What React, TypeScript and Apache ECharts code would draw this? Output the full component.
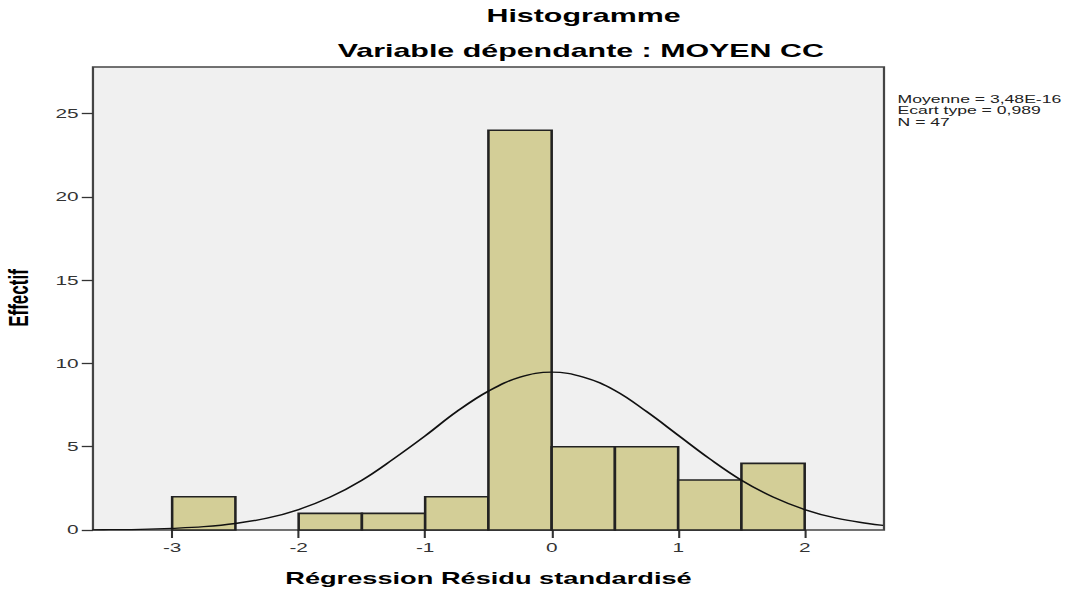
import React, { useEffect, useRef } from "react";
import * as echarts from "echarts";

// Histogram bins (standardised residual) and frequencies
const binStarts = [-3, -2, -1.5, -1, -0.5, 0, 0.5, 1, 1.5];
const binEnds = [-2.5, -1.5, -1, -0.5, 0, 0.5, 1, 1.5, 2];
const counts = [2, 1, 1, 2, 24, 5, 5, 3, 4];

// Normal curve points
const curveX = [-3.63, -3.5, -3.25, -3, -2.75, -2.5, -2.25, -2, -1.75, -1.5, -1.25, -1, -0.75, -0.5, -0.25, 0, 0.25, 0.5, 0.75, 1, 1.25, 1.5, 1.75, 2, 2.25, 2.5, 2.62];
const curveY = [0.01, 0.02, 0.04, 0.1, 0.2, 0.39, 0.71, 1.23, 1.98, 2.99, 4.27, 5.65, 7.11, 8.34, 9.18, 9.48, 9.18, 8.38, 7.11, 5.69, 4.27, 2.99, 1.98, 1.23, 0.71, 0.39, 0.28];

const xTicks = [-3, -2, -1, 0, 1, 2];
const yTicks = [0, 5, 10, 15, 20, 25];

const titleText = "Histogramme";
const subtitleText = "Variable dépendante : MOYEN CC";
const xName = "Régression Résidu standardisé";
const yName = "Effectif";
const statsLines = ["Moyenne = 3,48E-16", "Ecart type = 0,989", "N = 47"];

const SX = 1.6;
const W = 682;
const H = 592;

export default function App() {
  const ref = useRef<HTMLDivElement>(null);
  useEffect(() => {
    if (!ref.current) return;
    const chart = echarts.init(ref.current, null, { renderer: "svg", width: W, height: H });
    const font = "'Liberation Sans', Arial, sans-serif";
    const gridLeft = 58.1;
    const gridRight = 129.5;
    const gridTop = 67;
    const gridBottom = 62;
    const plotCenterX = gridLeft + (W - gridLeft - gridRight) / 2;
    const option: any = {
      animation: false,
      backgroundColor: "#ffffff",
      grid: {
        left: gridLeft,
        right: gridRight,
        top: gridTop,
        bottom: gridBottom,
        show: true,
        backgroundColor: "#f0f0f0",
        borderColor: "#444",
        borderWidth: 1.4,
      },
      xAxis: {
        type: "value",
        min: -3.626,
        max: 2.627,
        position: "bottom",
        axisLine: { show: false, onZero: false },
        splitLine: { show: false },
        axisTick: { show: true, inside: false, length: 8, customValues: xTicks, lineStyle: { color: "#333", width: 1.3 } },
        axisLabel: { customValues: xTicks, margin: 11, fontSize: 13, color: "#333", fontFamily: font },
      },
      yAxis: {
        type: "value",
        min: 0,
        max: 27.8,
        position: "left",
        axisLine: { show: false, onZero: false },
        splitLine: { show: false },
        axisTick: { show: true, inside: false, length: 7, customValues: yTicks, lineStyle: { color: "#333", width: 1.3 } },
        axisLabel: { customValues: yTicks, margin: 9, fontSize: 13, color: "#333", fontFamily: font },
      },
      series: [
        {
          type: "custom",
          data: binStarts.map((s, i) => [s, binEnds[i], counts[i]]),
          encode: { x: [0, 1], y: 2 },
          renderItem: (params: any, api: any) => {
            const x0 = api.value(0);
            const x1 = api.value(1);
            const c = api.value(2);
            const p0 = api.coord([x0, c]);
            const p1 = api.coord([x1, 0]);
            return {
              type: "rect",
              shape: { x: p0[0], y: p0[1], width: p1[0] - p0[0], height: p1[1] - p0[1] },
              style: { fill: "#d3ce97", stroke: "#222", lineWidth: 1.6 },
            };
          },
          z: 2,
        },
        {
          type: "line",
          data: curveX.map((x, i) => [x, curveY[i]]),
          smooth: 0.4,
          symbol: "none",
          lineStyle: { color: "#111", width: 1.4 },
          z: 3,
        },
      ],
      graphic: [
        {
          type: "text",
          x: 364.7,
          y: 15,
          style: { text: titleText, font: `bold 19px ${font}`, fill: "#000", align: "center", verticalAlign: "middle" },
        },
        {
          type: "text",
          x: 363,
          y: 50,
          style: { text: subtitleText, font: `bold 19px ${font}`, fill: "#000", align: "center", verticalAlign: "middle" },
        },
        {
          type: "text",
          x: plotCenterX,
          y: 578,
          style: { text: xName, font: `bold 17px ${font}`, fill: "#000", align: "center", verticalAlign: "middle" },
        },
        {
          type: "text",
          x: 11.5,
          y: 298,
          rotation: Math.PI / 2,
          style: { text: yName, font: `bold 17px ${font}`, fill: "#000", align: "center", verticalAlign: "middle" },
        },
        ...statsLines.map((line, i) => ({
          type: "text",
          x: 561,
          y: 99 + i * 11.5,
          style: { text: line, font: `11px ${font}`, fill: "#222", align: "left", verticalAlign: "middle" },
        })),
      ],
    };
    chart.setOption(option);
    return () => chart.dispose();
  }, []);
  return (
    <div style={{ position: "absolute", left: 0, top: 0, width: 1091, height: 592, overflow: "hidden", background: "#fff" }}>
      <div
        ref={ref}
        style={{ width: W, height: H, transform: `scaleX(${SX})`, transformOrigin: "0 0" }}
      />
    </div>
  );
}
